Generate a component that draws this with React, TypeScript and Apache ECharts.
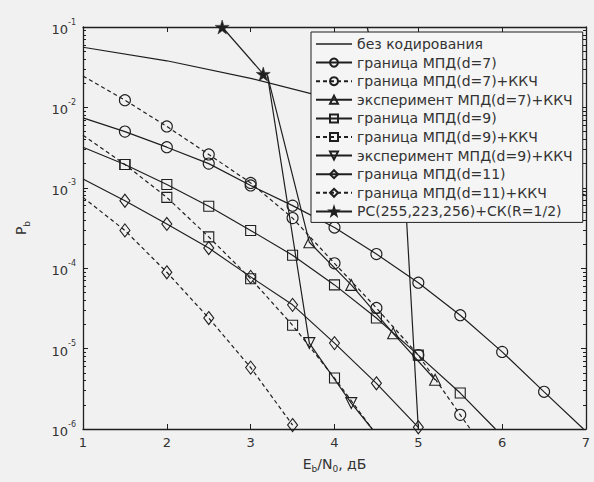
import React, { useEffect, useRef } from "react";
import * as echarts from "echarts";

// ---- data (Eb/N0 in dB, Pb) ----
const uncodedX = [1, 2, 3, 4, 5, 6, 7];
const uncodedY = [0.056, 0.038, 0.023, 0.0125, 0.006, 0.0024, 0.0008];

const d7X = [1, 1.5, 2, 2.5, 3, 3.5, 4, 4.5, 5, 5.5, 6, 6.5, 6.97];
const d7Y = [7.4e-3, 5.0e-3, 3.2e-3, 2.0e-3, 1.07e-3, 6.0e-4, 3.2e-4, 1.5e-4, 6.6e-5, 2.6e-5, 9.1e-6, 2.9e-6, 1e-6];
const d7Bare = [0, 12];

const d7kX = [1, 1.5, 2, 2.5, 3, 3.5, 4, 4.5, 5, 5.5, 5.62];
const d7kY = [2.45e-2, 1.23e-2, 5.8e-3, 2.6e-3, 1.15e-3, 4.2e-4, 1.15e-4, 3.2e-5, 8.3e-6, 1.5e-6, 1e-6];
const d7kBare = [0, 10];

const d7eX = [3.2, 3.7, 4.2, 4.7, 5.2];
const d7eY = [2.5e-2, 2.1e-4, 6.2e-5, 1.55e-5, 4.1e-6];
const d7eBare = [0];

const d9X = [1, 1.5, 2, 2.5, 3, 3.5, 4, 4.5, 5, 5.5, 5.92];
const d9Y = [3.2e-3, 1.95e-3, 1.1e-3, 5.9e-4, 2.95e-4, 1.45e-4, 6.2e-5, 2.4e-5, 8.3e-6, 2.8e-6, 1e-6];
const d9Bare = [0, 10];

const d9kX = [1, 1.5, 2, 2.5, 3, 3.5, 4, 4.45];
const d9kY = [4.5e-3, 1.95e-3, 7.6e-4, 2.45e-4, 7.4e-5, 1.95e-5, 4.3e-6, 1e-6];
const d9kBare = [0, 7];

const d9eX = [3.2, 3.7, 4.2, 4.45];
const d9eY = [2.5e-2, 1.17e-5, 2.1e-6, 1e-6];
const d9eBare = [0, 3];

const d11X = [1, 1.5, 2, 2.5, 3, 3.5, 4, 4.5, 5];
const d11Y = [1.29e-3, 6.9e-4, 3.55e-4, 1.78e-4, 7.8e-5, 3.5e-5, 1.17e-5, 3.7e-6, 1.05e-6];
const d11Bare = [0];

const d11kX = [1, 1.5, 2, 2.5, 3, 3.5];
const d11kY = [7.6e-4, 2.95e-4, 8.9e-5, 2.4e-5, 5.8e-6, 1.12e-6];
const d11kBare = [0];

const rsX = [2.66, 3.15];
const rsY = [0.1, 0.026];

const rs2X = [4.39, 4.85, 5.0];
const rs2Y = [0.1, 6e-4, 1e-6];

const NAMES = [
  "без кодирования",
  "граница МПД(d=7)",
  "граница МПД(d=7)+ККЧ",
  "эксперимент МПД(d=7)+ККЧ",
  "граница МПД(d=9)",
  "граница МПД(d=9)+ККЧ",
  "эксперимент МПД(d=9)+ККЧ",
  "граница МПД(d=11)",
  "граница МПД(d=11)+ККЧ",
  "РС(255,223,256)+СК(R=1/2)",
];

const INK = "#1f1f1f";
const BG = "#f1f1f1";
const FONT = "DejaVu Sans";
const STAR = "path://M50,0 L61,35 L98,35 L68,57 L79,91 L50,70 L21,91 L32,57 L2,35 L39,35 Z";
const LINE_ICON = "path://M0,0 L36,0 L36,1.3 L0,1.3 Z";

function mkSeries(
  name: string,
  xs: number[],
  ys: number[],
  bare: number[],
  symbol: string,
  dashed: boolean,
  extra: any = {}
) {
  return {
    type: "line",
    name,
    data: xs.map((x, i) =>
      bare.includes(i) ? { value: [x, ys[i]], symbol: "none" } : [x, ys[i]]
    ),
    symbol,
    symbolSize: 11,
    showSymbol: true,
    showAllSymbol: true,
    lineStyle: { color: INK, width: 1.2, type: dashed ? [4, 3] : "solid" },
    itemStyle: { color: "rgba(0,0,0,0)", borderColor: INK, borderWidth: 1.1 },
    emphasis: { disabled: true },
    clip: true,
    ...extra,
  };
}

const minorLogTicks: number[] = [];
for (let e = -6; e <= -2; e++) {
  for (let m = 2; m <= 9; m++) minorLogTicks.push(e + Math.log10(m));
}

export default function App() {
  const ref = useRef<HTMLDivElement>(null);
  useEffect(() => {
    if (!ref.current) return;
    const chart = echarts.init(ref.current, undefined, { renderer: "svg" });
    const axisLine = { show: true, lineStyle: { color: INK, width: 1.3 } };
    const subRich = {
      sub: { fontSize: 9, fontFamily: FONT, color: "#333", verticalAlign: "bottom", lineHeight: 9 },
    };
    const option: any = {
      animation: false,
      backgroundColor: BG,
      grid: { left: 83, right: 8, top: 27, bottom: 53, containLabel: false },
      xAxis: [
        {
          type: "value",
          min: 1,
          max: 7,
          interval: 1,
          position: "bottom",
          axisLine,
          axisTick: { show: true, inside: true, length: 5, lineStyle: { color: INK } },
          splitLine: { show: false },
          axisLabel: { color: "#333", fontSize: 13, fontFamily: FONT, margin: 7 },
          name: "E{sub|b}/N{sub|0}, дБ",
          nameLocation: "middle",
          nameGap: 21,
          nameTextStyle: { color: "#333", fontSize: 14, fontFamily: FONT, lineHeight: 20, rich: subRich },
        },
        {
          type: "value",
          min: 1,
          max: 7,
          interval: 1,
          position: "top",
          axisLine,
          axisTick: { show: true, inside: true, length: 5, lineStyle: { color: INK } },
          axisLabel: { show: false },
          splitLine: { show: false },
        },
      ],
      yAxis: [
        {
          type: "log",
          logBase: 10,
          min: 1e-6,
          max: 1e-1,
          position: "left",
          axisLine,
          axisTick: { show: true, inside: true, length: 5, lineStyle: { color: INK } },
          splitLine: { show: false },
          axisLabel: {
            margin: 7,
            formatter: (v: number) => `{b|10}{s|${Math.round(Math.log10(v))}}`,
            rich: {
              b: { fontSize: 13, fontFamily: FONT, color: "#333", lineHeight: 18, verticalAlign: "bottom" },
              s: { fontSize: 8, fontFamily: FONT, color: "#333", lineHeight: 9, verticalAlign: "top" },
            },
          },
          name: "P{sub|b}",
          nameLocation: "middle",
          nameRotate: 90,
          nameGap: 52,
          nameTextStyle: { color: "#333", fontSize: 14, fontFamily: FONT, lineHeight: 20, rich: subRich },
        },
        {
          type: "log",
          logBase: 10,
          min: 1e-6,
          max: 1e-1,
          position: "right",
          axisLine,
          axisTick: { show: true, inside: true, length: 5, lineStyle: { color: INK } },
          axisLabel: { show: false },
          splitLine: { show: false },
        },
        {
          type: "value",
          min: -6,
          max: -1,
          position: "left",
          axisLine: { show: false },
          axisTick: { show: true, inside: true, length: 3, customValues: minorLogTicks, lineStyle: { color: INK } },
          axisLabel: { show: false },
          splitLine: { show: false },
        },
        {
          type: "value",
          min: -6,
          max: -1,
          position: "right",
          axisLine: { show: false },
          axisTick: { show: true, inside: true, length: 3, customValues: minorLogTicks, lineStyle: { color: INK } },
          axisLabel: { show: false },
          splitLine: { show: false },
        },
      ],
      legend: {
        data: NAMES.map((n, i) =>
          i === 0 ? { name: n, icon: LINE_ICON, itemStyle: { color: INK, borderWidth: 0 } } : { name: n }
        ),
        orient: "vertical",
        left: 311,
        top: 32,
        itemWidth: 36,
        itemHeight: 10,
        itemGap: 4.6,
        padding: [5, 10, 4, 4],
        backgroundColor: "#f5f5f5",
        borderColor: INK,
        borderWidth: 1,
        borderRadius: 0,
        selectedMode: false,
        textStyle: { color: "#333", fontSize: 14, fontFamily: FONT, lineHeight: 11 },
      },
      series: [
        mkSeries(NAMES[0], uncodedX, uncodedY, [], "none", false),
        mkSeries(NAMES[1], d7X, d7Y, d7Bare, "circle", false),
        mkSeries(NAMES[2], d7kX, d7kY, d7kBare, "circle", true),
        mkSeries(NAMES[3], d7eX, d7eY, d7eBare, "triangle", false),
        mkSeries(NAMES[4], d9X, d9Y, d9Bare, "rect", false, { symbolSize: 10 }),
        mkSeries(NAMES[5], d9kX, d9kY, d9kBare, "rect", true, { symbolSize: 10 }),
        mkSeries(NAMES[6], d9eX, d9eY, d9eBare, "triangle", false, { symbolRotate: 180 }),
        mkSeries(NAMES[7], d11X, d11Y, d11Bare, "diamond", false, { symbolSize: [10, 13] }),
        mkSeries(NAMES[8], d11kX, d11kY, d11kBare, "diamond", true, { symbolSize: [10, 13] }),
        mkSeries(NAMES[9], rsX, rsY, [], STAR, false, {
          symbolSize: 14,
          itemStyle: { color: INK, borderColor: INK, borderWidth: 0.5 },
        }),
        mkSeries("rs-extra", rs2X, rs2Y, [], "none", false),
      ],
    };
    chart.setOption(option);
    return () => chart.dispose();
  }, []);
  return (
    <div
      ref={ref}
      style={{ position: "fixed", left: 0, top: 0, width: 594, height: 482 }}
    />
  );
}
